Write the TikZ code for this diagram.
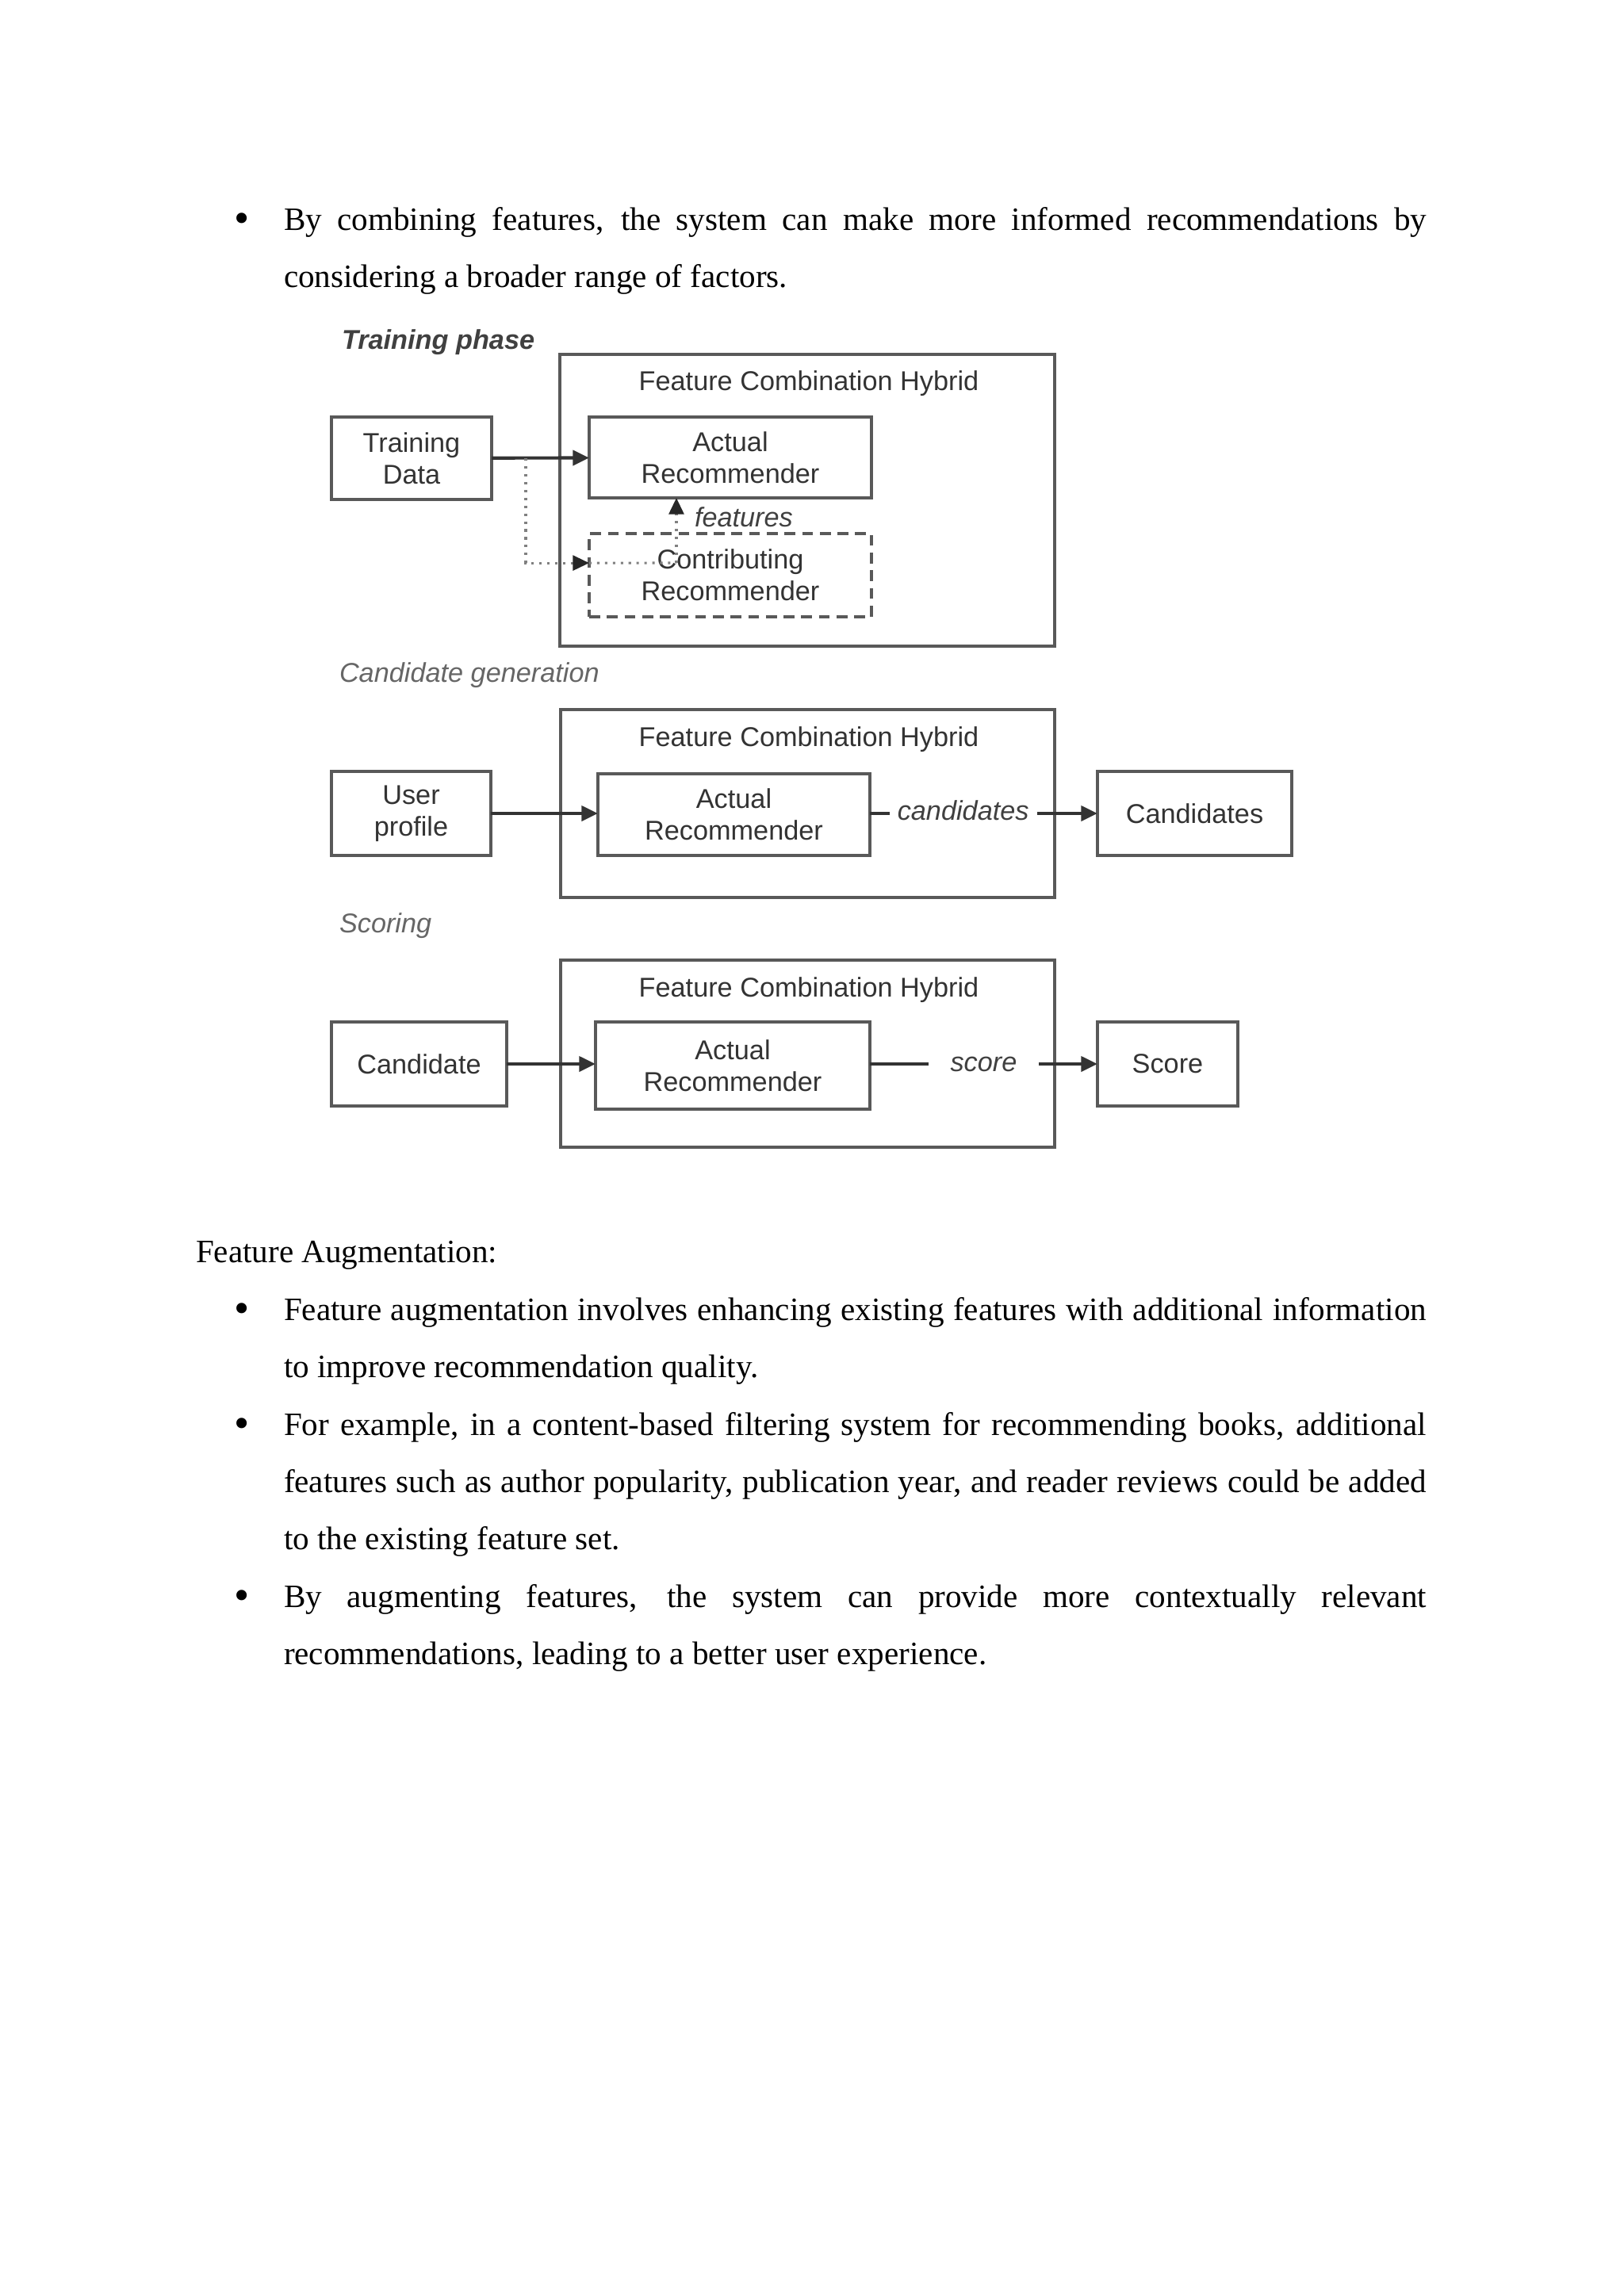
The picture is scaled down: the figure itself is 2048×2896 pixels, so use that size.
\documentclass[tikz,border=0pt]{standalone}
\usepackage{fontspec}
\setmainfont{Liberation Serif}
\newfontfamily\arialfont{Liberation Sans}
\usetikzlibrary{arrows.meta}

\newcommand{\px}{0.010254cm}
\newcommand{\linew}{14.776cm}

\begin{document}
\begin{tikzpicture}[x=\px, y=-\px,
    %Option for nice arrows
    >={Triangle[length=6pt,width=5.5pt]},
    inner sep=0pt, outer sep=0pt,
    para/.style={anchor=base west, font=\fontsize{12}{14}\selectfont},
    bullet/.style={anchor=base, yshift=-0.9pt, font=\fontsize{16}{16}\selectfont},
    dims/.style 2 args={minimum width={#1*\px}, minimum height={#2*\px}},
    box/.style={draw=black!65, line width=1pt, text=black!80, align=center,
        font=\arialfont\fontsize{10}{11.8}\selectfont},
    dashbox/.style={box, dash pattern=on 4pt off 2.5pt},
    hybrid/.style={draw=black!65, line width=1pt},
    title/.style={text=black!80, font=\arialfont\fontsize{10}{12}\selectfont},
    phase/.style={anchor=west, text=black!60, font=\arialfont\itshape\fontsize{10}{12}\selectfont},
    flow/.style={->, draw=black!80, line width=1.2pt},
    aux/.style={draw=black!50, dotted, line width=0.9pt},
    auxarrow/.style={aux, -{Triangle[length=6pt,width=5.5pt,color=black!85]}},
    tag/.style={text=black!75, font=\arialfont\itshape\fontsize{10}{12}\selectfont},
]
    % Page
    \fill[white] (0,0) rectangle (2048,2896);
    \useasboundingbox (0,0) rectangle (2048,2896);

    % Bullet above the figure
    \node[bullet] (b1) at (305,290) {\textbullet};
    \node[para] (l1) at (358,290)
        {\makebox[\linew][s]{By combining features, the system can make more informed recommendations by}};
    \node[para] (l2) at (358,362) {considering a broader range of factors.};

    % Training phase
    \node[phase, text=black!75, font=\arialfont\bfseries\itshape\fontsize{10}{12}\selectfont]
        (ph1) at (431,432) {Training phase};
    \node[hybrid, dims={624}{368}] (hyb1) at (1018,631) {};
    \node[title] (t1) at (1020,484) {Feature Combination Hybrid};
    \node[box, dims={202}{104}] (tdata) at (519,578) {Training\\Data};
    \node[box, dims={356}{102}] (act1) at (921,577) {Actual\\Recommender};
    \node[dashbox, dims={356}{105}] (contrib) at (921,725.5) {Contributing\\Recommender};

    \coordinate (split) at (663,578);
    \coordinate (cin) at ([yshift=4.5pt]contrib.west);
    \coordinate (fsrc) at (853,710);
    \draw[flow] (tdata) -- (act1);
    \draw[auxarrow] (split) |- (cin);
    \draw[aux] (cin) -- (fsrc);
    \draw[auxarrow] (fsrc) -- (fsrc |- act1.south);
    \node[tag, anchor=west] (feat) at (876,652) {features};

    % Candidate generation
    \node[phase] (ph2) at (428,852) {Candidate generation};
    \node[hybrid, dims={623}{237}] (hyb2) at (1018.5,1013.5) {};
    \node[title] (t2) at (1020,933) {Feature Combination Hybrid};
    \node[box, dims={201}{106}] (uprof) at (518.5,1026) {User\\profile};
    \node[box, dims={343}{103}] (act2) at (925.5,1027.5) {Actual\\Recommender};
    \node[box, dims={245}{106}] (cands) at (1506.5,1026) {Candidates};

    \draw[flow] (uprof.east) -- (uprof.east -| act2.west);
    \draw[flow] (act2.east |- cands.west) -- (cands.west)
        node[tag, pos=0.41, fill=white, inner xsep=3pt, inner ysep=2pt, yshift=1pt] (cl) {candidates};

    % Scoring
    \node[phase] (ph3) at (428,1168) {Scoring};
    \node[hybrid, dims={623}{236}] (hyb3) at (1018.5,1329) {};
    \node[title] (t3) at (1020,1249) {Feature Combination Hybrid};
    \node[box, dims={221}{106}] (cand) at (528.5,1342) {Candidate};
    \node[box, dims={346}{110}] (act3) at (924,1344) {Actual\\Recommender};
    \node[box, dims={177}{106}] (score) at (1472.5,1342) {Score};

    \draw[flow] (cand.east) -- (cand.east -| act3.west);
    \draw[flow] (act3.east |- score.west) -- (score.west)
        node[tag, midway, fill=white, inner xsep=8pt, inner ysep=2pt] (sl) {score};

    % Feature augmentation
    \node[para] (h2) at (247,1592) {Feature Augmentation:};

    \node[bullet] (b2) at (305,1665) {\textbullet};
    \node[para] (m1) at (358,1665)
        {\makebox[\linew][s]{Feature augmentation involves enhancing existing features with additional information}};
    \node[para] (m2) at (358,1737) {to improve recommendation quality.};

    \node[bullet] (b3) at (305,1810) {\textbullet};
    \node[para] (m3) at (358,1810)
        {\makebox[\linew][s]{For example, in a content-based filtering system for recommending books, additional}};
    \node[para] (m4) at (358,1882)
        {\makebox[\linew][s]{features such as author popularity, publication year, and reader reviews could be added}};
    \node[para] (m5) at (358,1954) {to the existing feature set.};

    \node[bullet] (b4) at (305,2027) {\textbullet};
    \node[para] (m6) at (358,2027)
        {\makebox[\linew][s]{By augmenting features, the system can provide more contextually relevant}};
    \node[para] (m7) at (358,2099) {recommendations, leading to a better user experience.};
\end{tikzpicture}
\end{document}
